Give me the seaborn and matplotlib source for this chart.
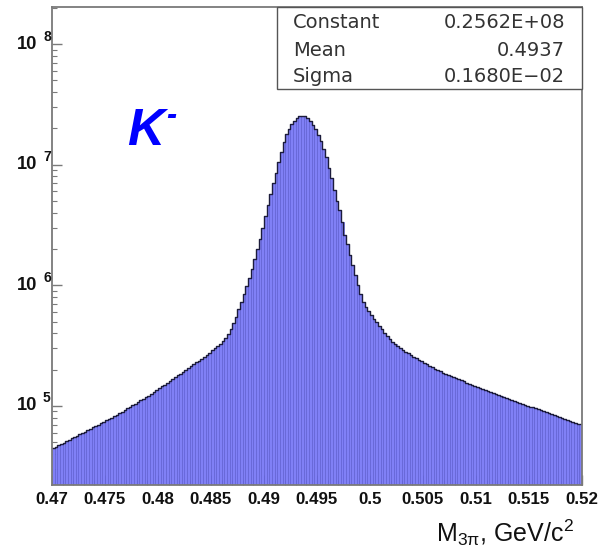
import numpy as np
import pandas as pd
import matplotlib
matplotlib.use("Agg")
import matplotlib.pyplot as plt
import matplotlib.transforms as mtransforms
from matplotlib.patches import Rectangle
from matplotlib.ticker import MultipleLocator, LogLocator, NullFormatter
import seaborn as sns

# ---- data ----
x_min, x_max, n_bins = 0.47, 0.52, 200
counts = [
    44700, 45900, 47100, 48300, 49500, 50900, 52200, 53700, 55100, 56500,
    58100, 59600, 61100, 62800, 64600, 66400, 68100, 70000, 71800, 73800,
    75900, 77800, 80000, 82000, 84300, 86900, 89700, 92500, 95300, 98400,
    101000, 104500, 107900, 111200, 114600, 118300, 121900, 125900, 130300, 135200,
    140000, 144900, 150000, 155600, 161100, 166700, 173000, 179100, 185400, 191900,
    199100, 206100, 213800, 221300, 229600, 237700, 247200, 256400, 266700, 277300,
    288400, 299900, 312600, 327300, 346700, 367300, 398100, 436500, 484200, 549500,
    631000, 727800, 847200, 986300, 1151000, 1377000, 1667000, 2004000, 2432000, 3013000,
    3758000, 4645000, 5754000, 7015000, 8610000, 10520000, 12820000, 15280000, 17910000, 19950000,
    21730000, 23170000, 24270000, 25120000, 25410000, 25180000, 24380000, 23120000, 21380000, 19950000,
    17780000, 15630000, 13520000, 11530000, 9333000, 7780000, 6166000, 5012000, 4207000, 3334000,
    2630000, 2188000, 1791000, 1476000, 1213000, 1007000, 851100, 727800, 660700, 609500,
    564900, 524800, 492000, 460300, 431500, 405500, 381900, 359700, 338100, 326600,
    314800, 303400, 292400, 282500, 272900, 264900, 256400, 248900, 241000, 233900,
    227000, 221300, 215300, 209400, 203700, 198600, 193600, 189200, 185400, 181600,
    177400, 173800, 170200, 166700, 162900, 159600, 156300, 153100, 149600, 146900,
    144200, 141300, 138700, 135800, 133400, 130600, 128200, 125600, 123300, 120800,
    118600, 116400, 114300, 112200, 110200, 108400, 106400, 104500, 102600, 100700,
    98860, 97270, 95500, 93760, 92040, 90360, 88920, 87300, 85700, 84140,
    82600, 81100, 79620, 78340, 76910, 75510, 74130, 72780, 71450, 70150,
]
x_ticks = [0.47, 0.475, 0.48, 0.485, 0.49, 0.495, 0.5, 0.505, 0.51, 0.515, 0.52]
x_tick_labels = ["0.47", "0.475", "0.48", "0.485", "0.49", "0.495", "0.5",
                 "0.505", "0.51", "0.515", "0.52"]
y_decades = [5, 6, 7, 8]
y_limits = (2.21e4, 2.03e8)
stat_names = ["Constant", "Mean", "Sigma"]
stat_values = ["0.2562E+08", "0.4937", "0.1680E\u221202"]

# ---- style ----
sns.set_style("white")
plt.rcParams["font.family"] = ["Liberation Sans", "DejaVu Sans"]
plt.rcParams["mathtext.fontset"] = "custom"
plt.rcParams["mathtext.rm"] = "Liberation Sans"
plt.rcParams["mathtext.it"] = "Liberation Sans:italic"

W, H = 600, 551
fig = plt.figure(figsize=(W / 100, H / 100), dpi=100)
ax_l, ax_r, ax_t, ax_b = 52, 582, 7, 485
ax = fig.add_axes([ax_l / W, 1 - ax_b / H, (ax_r - ax_l) / W, (ax_b - ax_t) / H])

bin_w = (x_max - x_min) / n_bins
centers = x_min + bin_w * (np.arange(n_bins) + 0.5)
df = pd.DataFrame({"m": centers, "n": counts})

sns.histplot(data=df, x="m", weights="n", bins=n_bins, binrange=(x_min, x_max),
             ax=ax, color="#8080f6", edgecolor="#5c5cd0", linewidth=0.45, alpha=1.0)
sns.histplot(data=df, x="m", weights="n", bins=n_bins, binrange=(x_min, x_max),
             ax=ax, element="step", fill=False, color="#1c1c3c", linewidth=1.0)
ax.set_yscale("log")
ax.set_xlim(x_min, x_max)
ax.set_ylim(*y_limits)
ax.set_xlabel("")
ax.set_ylabel("")

# spines / ticks
for s in ax.spines.values():
    s.set_color("#7a7a7a")
    s.set_linewidth(1.3)
    s.set_visible(True)
ax.set_xticks(x_ticks)
ax.set_xticklabels(x_tick_labels, fontweight="bold", fontsize=12.2)
ax.xaxis.set_minor_locator(MultipleLocator(0.001))
ax.yaxis.set_major_locator(LogLocator(base=10, numticks=20))
ax.yaxis.set_minor_locator(LogLocator(base=10, subs=np.arange(2, 10), numticks=20))
ax.yaxis.set_major_formatter(NullFormatter())
ax.yaxis.set_minor_formatter(NullFormatter())
ax.tick_params(axis="both", which="both", direction="in", color="#7a7a7a",
               left=True, bottom=True, right=False, top=False)
ax.tick_params(axis="both", which="major", length=7, width=1.0)
ax.tick_params(axis="both", which="minor", length=3.6, width=0.8)
ax.tick_params(axis="x", which="major", pad=5, labelcolor="#111111")

# y tick labels in "10 ^n" ROOT style
blend = mtransforms.blended_transform_factory(ax.transAxes, ax.transData)
for d in y_decades:
    ax.text((37 - ax_l) / (ax_r - ax_l), 10.0 ** d, "10", transform=blend,
            ha="right", va="center", fontsize=13.2, fontweight="bold", color="#111111")
    tr = blend + mtransforms.ScaledTranslation(0, 7.5 / 100, fig.dpi_scale_trans)
    ax.text((43 - ax_l) / (ax_r - ax_l), 10.0 ** d, str(d), transform=tr,
            ha="left", va="center", fontsize=10, fontweight="bold", color="#111111")

# stats box
bx0 = (277 - ax_l) / (ax_r - ax_l)
by0 = (ax_b - 89) / (ax_b - ax_t)
ax.add_patch(Rectangle((bx0, by0), 1 - bx0, 1 - by0, transform=ax.transAxes,
                       facecolor="white", edgecolor="#555555", linewidth=1.0,
                       zorder=5, clip_on=False))
for k, (nm, val) in enumerate(zip(stat_names, stat_values)):
    yy = (ax_b - (23 + 27 * k)) / (ax_b - ax_t)
    ax.text((293 - ax_l) / (ax_r - ax_l), yy, nm, transform=ax.transAxes,
            ha="left", va="center", fontsize=14, family="DejaVu Sans",
            color="#333333", zorder=6)
    ax.text((565 - ax_l) / (ax_r - ax_l), yy, val, transform=ax.transAxes,
            ha="right", va="center", fontsize=14, family="DejaVu Sans",
            color="#333333", zorder=6)

# K- label
fig.text(127 / W, 1 - 145 / H, "K", fontsize=37, fontweight="bold",
         fontstyle="italic", color="#0000ff", va="baseline", ha="left")
fig.text(166 / W, 1 - 124 / H, "-", fontsize=22, fontweight="bold",
         fontstyle="italic", color="#0000ff", va="baseline", ha="left")

# x axis title
fig.text(574 / W, 1 - 542 / H, "M$_{\\mathrm{3\u03c0}}$, GeV/c$^{2}$", fontsize=18,
         ha="right", va="baseline", color="#111111")

fig.savefig("out.png", dpi=100)
